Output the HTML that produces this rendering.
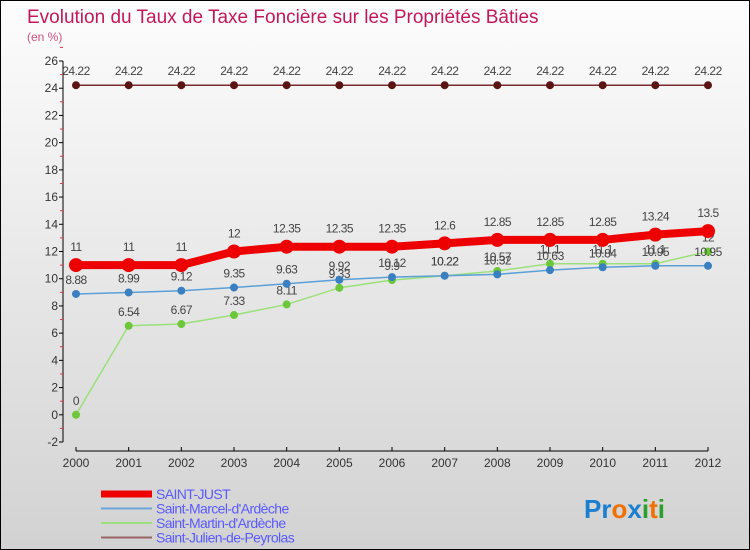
<!DOCTYPE html>
<html><head><meta charset="utf-8"><style>
body{margin:0}
#c{width:750px;height:550px;position:relative;box-sizing:border-box;border:1px solid #000;background:linear-gradient(#fdfdfd,#d2d2d2);font-family:"Liberation Sans",sans-serif;overflow:hidden}
</style></head><body>
<div id="c">
<svg id="s" width="750" height="550" style="position:absolute;left:0;top:0">
<text x="26" y="22" font-size="19" fill="#c2185b">Evolution du Taux de Taxe Foncière sur les Propriétés Bâties</text>
<text x="26" y="40" font-size="12" fill="#d0507f">(en %)</text>
</svg>
</div>
<script>
const years=[2000,2001,2002,2003,2004,2005,2006,2007,2008,2009,2010,2011,2012];
const saintJust=[11,11,11,12,12.35,12.35,12.35,12.6,12.85,12.85,12.85,13.24,13.5];
const saintMarcel=[8.88,8.99,9.12,9.35,9.63,9.92,10.12,10.22,10.32,10.63,10.84,10.95,10.95];
const saintMartin=[0,6.54,6.67,7.33,8.11,9.33,9.9,10.22,10.57,11.1,11.1,11.1,12];
const saintJulien=[24.22,24.22,24.22,24.22,24.22,24.22,24.22,24.22,24.22,24.22,24.22,24.22,24.22];
const yTicks=[-2,0,2,4,6,8,10,12,14,16,18,20,22,24,26];
const NS="http://www.w3.org/2000/svg";
const svg=document.getElementById('s');
const x=i=>75+i*(632/12);
const y=v=>441-(v+2)*(381/28);
function mk(t,a,p){const e=document.createElementNS(NS,t);for(const k in a)e.setAttribute(k,a[k]);(p||svg).appendChild(e);return e;}
// axes
let ya=mk('line',{x1:62,y1:60,x2:62,y2:441,stroke:'#000','stroke-width':1});


let xa=mk('line',{x1:75,y1:450,x2:707,y2:450,stroke:'#000','stroke-width':1});


yTicks.forEach(v=>{
  mk('line',{x1:58,y1:y(v),x2:62,y2:y(v),stroke:'#000'});
  mk('line',{x1:59,y1:y(v+1),x2:62,y2:y(v+1),stroke:'#e33'});
  const t=mk('text',{x:57,y:y(v)+4,'font-size':12,'text-anchor':'end',fill:'#333'});
  t.textContent=v;
  
  
});
years.forEach((yr,i)=>{
  mk('line',{x1:x(i),y1:446,x2:x(i),y2:450,stroke:'#000'});
  const t=mk('text',{x:x(i),y:466,'font-size':12,'text-anchor':'middle',fill:'#333'});
  t.textContent=yr;
  
  
});
function series(vals,color,lw,r,dot,name){
  const g=mk('g',{});
  
  
  mk('polyline',{points:vals.map((v,i)=>x(i)+','+y(v)).join(' '),fill:'none',stroke:color,'stroke-width':lw},g);
  vals.forEach((v,i)=>{
    const c=mk('circle',{cx:x(i),cy:y(v),r:r,fill:dot},g);
    
    
    const t=mk('text',{x:x(i),y:y(v)-10-(r>4?4:0),'font-size':12,'text-anchor':'middle',fill:'#444','letter-spacing':'-0.5'},g);
    t.textContent=v;
    
    
  });
}
series(saintJulien,'#7a2a2a',1.5,4,'#5a1414','saint-julien-series');
series(saintMartin,'#9be07a',1.5,4,'#6cc83a','saint-martin-series');
series(saintMarcel,'#5a9fd8',1.5,4,'#3a7fc0','saint-marcel-series');
series(saintJust,'#ee0000',8,7,'#ee0000','saint-just-series');
// legend
const leg=[['SAINT-JUST','#ee0000',7],['Saint-Marcel-d\'Ardèche','#6aa6d8',2],['Saint-Martin-d\'Ardèche','#9be07a',2],['Saint-Julien-de-Peyrolas','#9a6464',2]];
leg.forEach((l,i)=>{
  const ly=493+i*14.5;
  const g=mk('g',{});
  
  
  mk('line',{x1:100,y1:ly,x2:151,y2:ly,stroke:l[1],'stroke-width':l[2]},g);
  const t=mk('text',{x:155,y:ly+5,'font-size':14,fill:'#5a5aff','letter-spacing':'-0.6'},g);
  t.textContent=l[0];
});
const lg=mk('text',{x:583,y:517,'font-size':26,'font-weight':'bold'});


[['P','#1a7fd0'],['r','#1a7fd0'],['o','#f07000'],['x','#1a7fd0'],['i','#2aa02a'],['t','#f07000'],['i','#2aa02a']].forEach(a=>{const s=mk('tspan',{fill:a[1]},lg);s.textContent=a[0];});
</script>
</body></html>
